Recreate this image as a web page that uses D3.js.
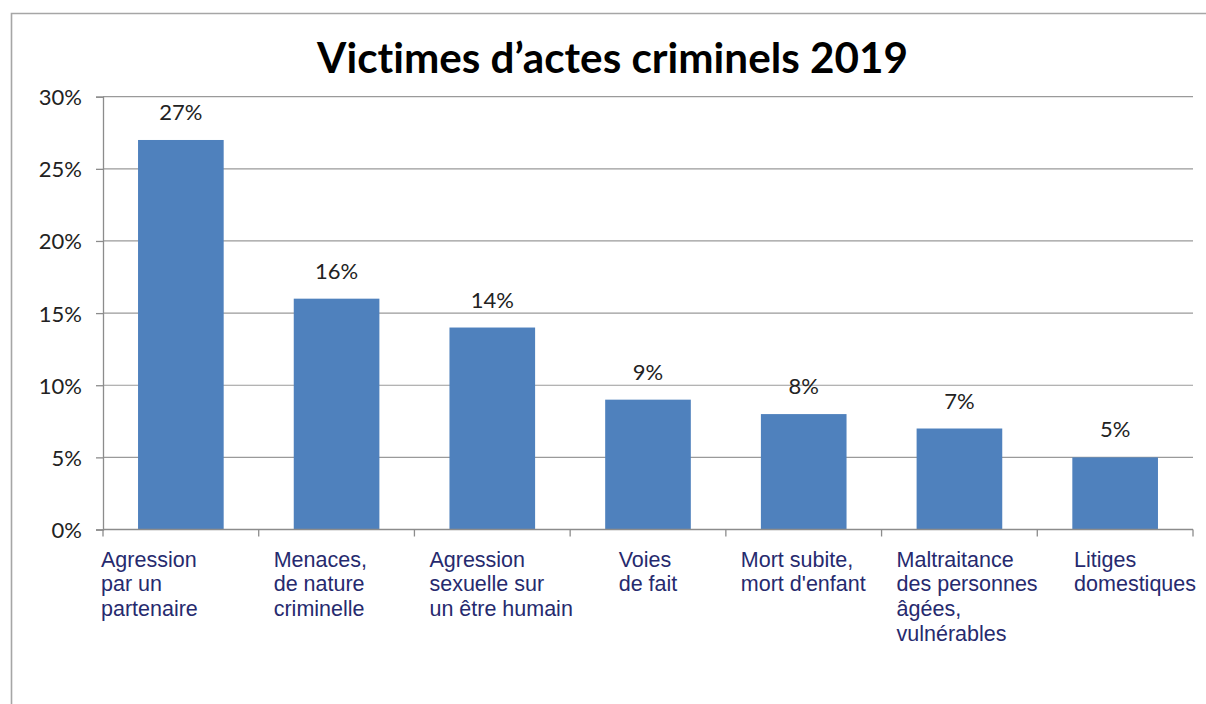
<!DOCTYPE html>
<html><head><meta charset="utf-8">
<script src="https://cdn.jsdelivr.net/npm/d3@7"></script>
<style>body{margin:0;background:#fff}svg{display:block}text{font-variant-ligatures:none}</style>
</head><body>
<svg id="chart" width="1206" height="704"></svg>
<script>
const title = "Victimes d\u2019actes criminels 2019";
const categories = [
  ["Agression", "par un", "partenaire"],
  ["Menaces,", "de nature", "criminelle"],
  ["Agression", "sexuelle sur", "un être humain"],
  ["Voies", "de fait"],
  ["Mort subite,", "mort d'enfant"],
  ["Maltraitance", "des personnes", "âgées,", "vulnérables"],
  ["Litiges", "domestiques"]
];
const values = [27, 16, 14, 9, 8, 7, 5];
const yTicks = [0, 5, 10, 15, 20, 25, 30];

const svg = d3.select("#chart");
const m = {left: 103, right: 1193, top: 96.7, bottom: 529.5};

// frame
svg.append("path").attr("d", `M11.5,704 L11.5,13.5 L1206,13.5`)
  .attr("fill", "none").attr("stroke", "#a6a6a6").attr("stroke-width", 1.6);

const x = d3.scaleBand().domain(d3.range(categories.length)).range([m.left, m.right]).padding(0);
const y = d3.scaleLinear().domain([0, 30]).range([m.bottom, m.top]);

// gridlines
svg.append("g").selectAll("line").data(yTicks.filter(t => t > 0)).join("line")
  .attr("x1", m.left).attr("x2", m.right)
  .attr("y1", d => y(d)).attr("y2", d => y(d))
  .attr("stroke", "#9a9a9a").attr("stroke-width", 1.2);

// y axis
const yAxis = d3.axisLeft(y).tickValues(yTicks).tickFormat(d => d + "%").tickSize(7).tickPadding(14);
const gy = svg.append("g").attr("transform", `translate(${m.left},0)`).call(yAxis);
gy.select(".domain").attr("stroke", "#8c8c8c").attr("stroke-width", 1.3);
gy.selectAll(".tick line").attr("stroke", "#8c8c8c").attr("stroke-width", 1.3);
gy.selectAll(".tick text").attr("font-family", "Lato, 'Open Sans', sans-serif")
  .attr("font-size", 22).attr("fill", "#222").attr("dy", "0.36em");

// bars
const barW = x.bandwidth() * 0.55;
svg.append("g").selectAll("rect").data(values).join("rect")
  .attr("x", (d, i) => x(i) + (x.bandwidth() - barW) / 2)
  .attr("y", d => y(d))
  .attr("width", barW)
  .attr("height", d => y(0) - y(d))
  .attr("fill", "#4f81bd");

// x axis
const gx = svg.append("g").attr("transform", `translate(0,${m.bottom})`);
gx.append("line").attr("x1", m.left).attr("x2", m.right).attr("y1", 0).attr("y2", 0)
  .attr("stroke", "#8c8c8c").attr("stroke-width", 1.3);
gx.selectAll("line.tk").data(d3.range(categories.length + 1)).join("line").attr("class", "tk")
  .attr("x1", d => m.left + d * x.step()).attr("x2", d => m.left + d * x.step())
  .attr("y1", 0).attr("y2", 7).attr("stroke", "#8c8c8c").attr("stroke-width", 1.3);

// value labels
svg.append("g").selectAll("text").data(values).join("text")
  .attr("x", (d, i) => x(i) + x.bandwidth() / 2)
  .attr("y", d => y(d) - 20)
  .attr("text-anchor", "middle")
  .attr("font-family", "Lato, 'Open Sans', sans-serif")
  .attr("font-size", 22).attr("fill", "#222")
  .text(d => d + "%");

// category labels
const cl = svg.append("g").selectAll("text").data(categories).join("text")
  .attr("font-family", "'Liberation Sans', Arial, sans-serif")
  .attr("font-size", 21.5).attr("fill", "#262a6e");
cl.each(function(lines, i) {
  const t = d3.select(this);
  lines.forEach((ln, j) => t.append("tspan").attr("x", 0).attr("y", 566.5 + j * 24.7).text(ln));
  const w = this.getBBox().width;
  const bs = x(i);
  const c = bs + x.bandwidth() / 2;
  let left = bs + 15;
  if (lines.length === 2 && w < 70) left = c - w / 2;
  if (i === categories.length - 1) left = 1196 - w;
  if (i === 0) left = bs - 2;
  t.selectAll("tspan").attr("x", left);
});

// title
const tt = svg.append("text").attr("x", 612.5).attr("y", 73).attr("text-anchor", "middle")
  .attr("font-family", "Lato, 'Open Sans', sans-serif").attr("font-weight", 700)
  .attr("font-size", 38).attr("fill", "#000").text(title);
const tw = tt.node().getComputedTextLength();
tt.attr("font-size", 38 * 591 / tw);
</script>
</body></html>
